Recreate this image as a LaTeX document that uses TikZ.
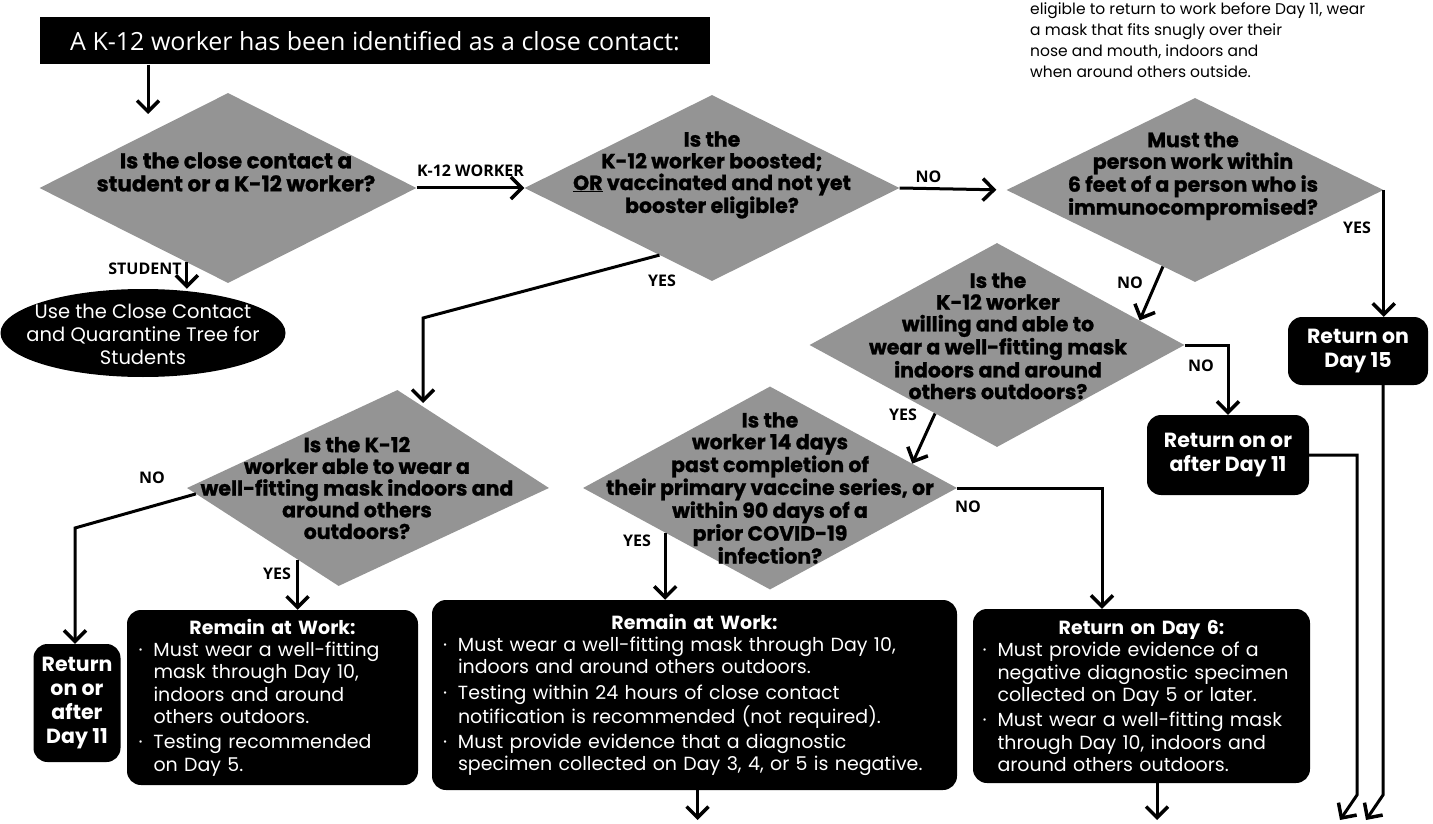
\documentclass[tikz,border=0pt]{standalone}
\usepackage{fontspec}
\setmainfont{Poppins}
\newfontfamily\osans{Open Sans}
\newfontfamily\diafont{Poppins}[BoldFeatures={FakeBold=1.2}]
\usetikzlibrary{shapes.geometric,arrows.meta,calc}
\definecolor{diagray}{gray}{0.58}
\setlength{\parindent}{0pt}
\newcommand{\nl}{\hfil\break}
\newcommand{\bul}[1]{\par\hangindent=15pt\hangafter=1\noindent\makebox[15pt][l]{\textperiodcentered}#1\par}
\newcommand{\bgap}{\vspace{3pt}}
\begin{document}
\begin{tikzpicture}[x=1pt,y=-1pt,
  dia/.style={shape=diamond, fill=diagray, inner sep=0pt, draw=none},
  dtext/.style={align=center, font=\diafont\fontsize{20.5}{21.7}\selectfont\bfseries, text=black, inner sep=0pt},
  blk/.style={fill=black, rounded corners=14pt, text=white, inner sep=0pt},
  endtext/.style={align=center, font=\fontsize{20.5}{24}\selectfont\bfseries},
  btext/.style={text=white, align=left, font=\fontsize{19}{22.3}\selectfont, inner sep=0pt},
  lab/.style={font=\osans\bfseries\fontsize{16}{18}\selectfont, inner sep=1pt},
  arr/.style={line width=3pt, -{Straight Barb[length=11pt,width=22pt,line width=3.5pt]}},
  conn/.style={line width=3pt}]
\useasboundingbox (0,0) rectangle (1433,824);

% title and note
\node[fill=black, text=white, minimum width=670pt, minimum height=47pt, inner sep=0pt,
      font=\osans\fontsize{25}{28}\selectfont] (title) at (375,41)
      {A K-12 worker has been identified as a close contact:};
\node[anchor=north west, align=left, inner sep=0pt, font=\fontsize{15.5}{21.2}\selectfont] (note) at (1030,2)
  {eligible to return to work before Day 11, wear\\a mask that fits snugly over their\\nose and mouth, indoors and\\when around others outside.};

% diamonds
\node[dia, minimum width=377pt, minimum height=190pt] (d1) at (228,188) {};
\node[dtext, font=\diafont\fontsize{21.5}{23}\selectfont\bfseries] (t1) at (236,172) {Is the close contact a\\student or a K-12 worker?};
\node[dia, minimum width=375pt, minimum height=186pt] (d2) at (712,188) {};
\node[dtext] (t2) at (712,175) {Is the\\K-12 worker boosted;\\\underline{OR} vaccinated and not yet\\booster eligible?};
\node[dia, minimum width=377pt, minimum height=184pt] (d3) at (1195,190) {};
\node[dtext] (t3) at (1193,176) {Must the\\person work within\\6 feet of a person who is\\immunocompromised?};
\node[dia, minimum width=375pt, minimum height=204pt] (d4) at (997,345) {};
\node[dtext] (t4) at (998,336) {Is the\\K-12 worker\\willing and able to\\wear a well-fitting mask\\indoors and around\\others outdoors?};
\node[dia, minimum width=374pt, minimum height=203pt] (d5) at (770,488) {};
\node[dtext] (t5) at (770,488) {Is the\\worker 14 days\\past completion of\\their primary vaccine series, or\\within 90 days of a\\prior COVID-19\\infection?};
\node[dia, minimum width=362pt, minimum height=196pt, xslant=0.3] (d6) at (368,488) {};
\node[dtext] (t6) at (357,488) {Is the K-12\\worker able to wear a\\well-fitting mask indoors and\\around others\\outdoors?};

% outcome shapes
\node[ellipse, fill=black, minimum width=285pt, minimum height=88pt, inner sep=0pt] (ell) at (143,333) {};
\node[text=white, align=center, inner sep=0pt, font=\fontsize{19.5}{23}\selectfont] (ellt) at (143,334)
  {Use the Close Contact\\and Quarantine Tree for\\Students};
\node[blk, endtext, minimum width=140pt, minimum height=68pt] (d15) at (1358,351) {Return on\\Day 15};
\node[blk, endtext, minimum width=162pt, minimum height=80pt] (r11) at (1228,455) {Return on or\\after Day 11};
\node[blk, endtext, minimum width=87pt, minimum height=118pt] (l11) at (77,703) {Return\\on or\\after\\Day 11};

\node[blk, minimum width=291pt, minimum height=175pt] (lrem) at (272.5,697.5) {};
\node[btext, text width=268pt] (lremt) at (lrem.center)
  {\makebox[\linewidth]{\bfseries Remain at Work:}\bul{Must wear a well-fitting\nl mask through Day 10,\nl indoors and around\nl others outdoors.}\bgap\bul{Testing recommended\nl on Day 5.}};
\node[blk, minimum width=525pt, minimum height=190pt] (mrem) at (694.5,695) {};
\node[btext, text width=503pt] (mremt) at (mrem.center)
  {\makebox[\linewidth]{\bfseries Remain at Work:}\bul{Must wear a well-fitting mask through Day 10,\nl indoors and around others outdoors.}\bgap\bul{Testing within 24 hours of close contact\nl notification is recommended (not required).}\bgap\bul{Must provide evidence that a diagnostic\nl specimen collected on Day 3, 4, or 5 is negative.}};
\node[blk, minimum width=337pt, minimum height=174pt] (day6) at (1141.5,696) {};
\node[btext, text width=318pt] (day6t) at (day6.center)
  {\makebox[\linewidth]{\bfseries Return on Day 6:}\bul{Must provide evidence of a\nl negative diagnostic specimen\nl collected on Day 5 or later.}\bgap\bul{Must wear a well-fitting mask\nl through Day 10, indoors and\nl around others outdoors.}};

% connectors
\coordinate (ta) at (148,114);
\draw[arr] (title.south -| ta) -- (ta);

\draw[arr] (d1.east) -- node[lab, above=9pt] (lk) {K-12 WORKER} (d2.west);
\draw[arr, shorten >=10pt] (d2.east) -- node[lab, above=3pt, pos=0.27] (ln2) {NO} (d3.west);

\coordinate (s1) at ($(d1.south)!0.218!(d1.west)$);
\draw[arr] (s1) -- (s1 |- ell.north);
\node[lab, anchor=east] (lst) at ($(s1)+(-4,6)$) {STUDENT};

\coordinate (y2a) at ($(d2.south)!0.28!(d2.west)$);
\coordinate (y2b) at (423,318);
\coordinate (y2c) at (423,403);
\draw[arr] (y2a) -- (y2b) -- (y2c);
\node[lab] (ly2) at (662,281) {YES};

\draw[arr] (d3.east) -- (d3.east |- d15.north);
\node[lab] (ly3) at (1357,228) {YES};

\coordinate (n3a) at ($(d3.south)!0.17!(d3.west)$);
\coordinate (n3b) at ($(d4.north)!0.76!(d4.east)$);
\draw[arr] (n3a) -- (n3b);
\node[lab] (ln3) at (1130,283) {NO};

\draw[arr] (d4.east) -| (r11.north);
\node[lab] (ln4) at (1201,366) {NO};

\coordinate (y4a) at ($(d4.south)!0.33!(d4.west)$);
\coordinate (y4b) at ($(d5.north)!0.76!(d5.east)$);
\draw[arr] (y4a) -- (y4b);
\node[lab] (ly4) at (903,415) {YES};

\coordinate (y5a) at ($(d5.south)!0.56!(d5.west)$);
\draw[arr] (y5a) -- (y5a |- mrem.north);
\node[lab] (ly5) at (637,541) {YES};

\coordinate (n5b) at ($(day6.north)+(-39.5,0)$);
\draw[arr] (d5.east) -| (n5b);
\node[lab] (ln5) at (968,507) {NO};

\coordinate (y6a) at ($(d6.south)!0.27!(d6.west)$);
\draw[arr] (y6a) -- (y6a |- lrem.north);
\node[lab] (ly6) at (277,574) {YES};

\coordinate (n6a) at ($(d6.west)!0.06!(d6.south)$);
\coordinate (n6b) at (75,528);
\draw[arr] (n6a) -- (n6b) -- (n6b |- l11.north);
\node[lab] (ln6) at (152,478) {NO};

\coordinate (mb) at (697.5,820);
\draw[arr] (mrem.south -| mb) -- (mb);
\coordinate (db) at (1157,820);
\draw[arr] (day6.south -| db) -- (db);

\coordinate (ra) at (1357,795);
\coordinate (rb) at (1340,820);
\draw[arr] (r11.east) -| (ra) -- (rb);
\coordinate (qa) at (1383,795);
\coordinate (qb) at (1366,820);
\draw[arr] (d15.south -| qa) -- (qa) -- (qb);
\end{tikzpicture}
\end{document}
